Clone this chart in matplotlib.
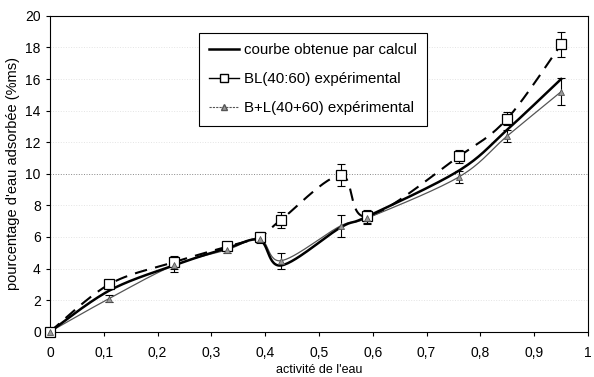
import numpy as np
import matplotlib.pyplot as plt

plt.rcParams['font.family'] = ['Liberation Sans', 'DejaVu Sans']

# activité de l'eau (aw)
aw = [0, 0.11, 0.23, 0.33, 0.39, 0.43, 0.54, 0.59, 0.76, 0.85, 0.95]

# courbe obtenue par calcul
calc = [0, 2.6, 4.2, 5.3, 5.8, 4.2, 6.6, 7.3, 10.2, 12.8, 16.0]

# BL(40:60) expérimental
bl = [0, 3.0, 4.4, 5.4, 6.0, 7.1, 9.9, 7.3, 11.1, 13.5, 18.2]
bl_err = [0, 0.2, 0.4, 0.2, 0.3, 0.5, 0.7, 0.4, 0.4, 0.4, 0.8]

# B+L(40+60) expérimental
bpl = [0, 2.1, 4.2, 5.2, 5.9, 4.5, 6.7, 7.2, 9.8, 12.4, 15.2]
bpl_err = [0, 0.2, 0.4, 0.2, 0.3, 0.5, 0.7, 0.4, 0.4, 0.4, 0.85]

xticks = [0, 0.1, 0.2, 0.3, 0.4, 0.5, 0.6, 0.7, 0.8, 0.9, 1]
yticks = [0, 2, 4, 6, 8, 10, 12, 14, 16, 18, 20]


def smooth(x, y, n=30):
    # excel-like smoothed line (catmull-rom through the points)
    px = np.concatenate([[x[0]], x, [x[-1]]]).astype(float)
    py = np.concatenate([[y[0]], y, [y[-1]]]).astype(float)
    t = np.linspace(0, 1, n)
    xs, ys = [], []
    for i in range(1, len(px) - 2):
        x0, x1, x2, x3 = px[i - 1:i + 3]
        y0, y1, y2, y3 = py[i - 1:i + 3]
        cx = 0.5 * ((2 * x1) + (-x0 + x2) * t + (2 * x0 - 5 * x1 + 4 * x2 - x3) * t ** 2
                    + (-x0 + 3 * x1 - 3 * x2 + x3) * t ** 3)
        cy = 0.5 * ((2 * y1) + (-y0 + y2) * t + (2 * y0 - 5 * y1 + 4 * y2 - y3) * t ** 2
                    + (-y0 + 3 * y1 - 3 * y2 + y3) * t ** 3)
        xs.extend(cx)
        ys.extend(cy)
    return xs, ys


fig = plt.figure(figsize=(5.94, 3.77), dpi=100)
ax = fig.add_axes([0.084, 0.12, 0.906, 0.838])

for v in yticks[1:-1]:
    ax.axhline(v, color='#888888' if v == 10 else '#e4e4e4', lw=0.7, ls=':', zorder=0)

sx, sy = smooth(aw, calc)
ax.plot(sx, sy, color='black', lw=1.8, zorder=3)

sx, sy = smooth(aw, bl)
ax.plot(sx, sy, color='black', lw=1.5, ls=(0, (6, 4)), zorder=2)
ax.errorbar(aw[1:], bl[1:], yerr=bl_err[1:], fmt='none', ecolor='black',
            elinewidth=0.8, capsize=3, capthick=0.8, zorder=4)
ax.plot(aw, bl, ls='none', marker='s', ms=7, mfc='white', mec='black', mew=0.9,
        zorder=5, clip_on=False)

sx, sy = smooth(aw, bpl)
ax.plot(sx, sy, color='#555555', lw=0.9, zorder=2)
ax.errorbar(aw[1:], bpl[1:], yerr=bpl_err[1:], fmt='none', ecolor='black',
            elinewidth=0.8, capsize=3, capthick=0.8, zorder=4)
ax.plot(aw, bpl, ls='none', marker='^', ms=5, mfc='#999999', mec='#555555', mew=0.6,
        zorder=6, clip_on=False)

# legend handles
h1, = ax.plot([], [], color='black', lw=1.8)
h2, = ax.plot([], [], color='black', lw=1.0, marker='s', ms=6, mfc='white', mec='black')
h3, = ax.plot([], [], color='#555555', lw=0.8, ls=(0, (2, 1)), marker='^', ms=5,
              mfc='#999999', mec='#555555')
leg = ax.legend([h1, h2, h3],
                ['courbe obtenue par calcul', 'BL(40:60) expérimental', 'B+L(40+60) expérimental'],
                loc='upper left', bbox_to_anchor=(0.263, 0.97), fontsize=10.8,
                frameon=True, fancybox=False, framealpha=1, edgecolor='black',
                handlelength=2.0, labelspacing=1.0, borderpad=0.7, handletextpad=0.3)
leg.get_frame().set_linewidth(0.8)

ax.set_xlim(0, 1)
ax.set_ylim(0, 20)
ax.set_xticks(xticks)
ax.set_xticklabels([str(t).replace('.', ',') for t in xticks])
ax.set_yticks(yticks)
ax.tick_params(direction='out', length=3, width=0.8, labelsize=10)
ax.tick_params(axis='x', pad=7)
for s in ax.spines.values():
    s.set_linewidth(0.8)

ax.set_xlabel("activité de l'eau", fontsize=9, labelpad=3)
ax.set_ylabel("pourcentage d'eau adsorbée (%ms)", fontsize=10.5, labelpad=4)

fig.savefig('out.png', dpi=100)
